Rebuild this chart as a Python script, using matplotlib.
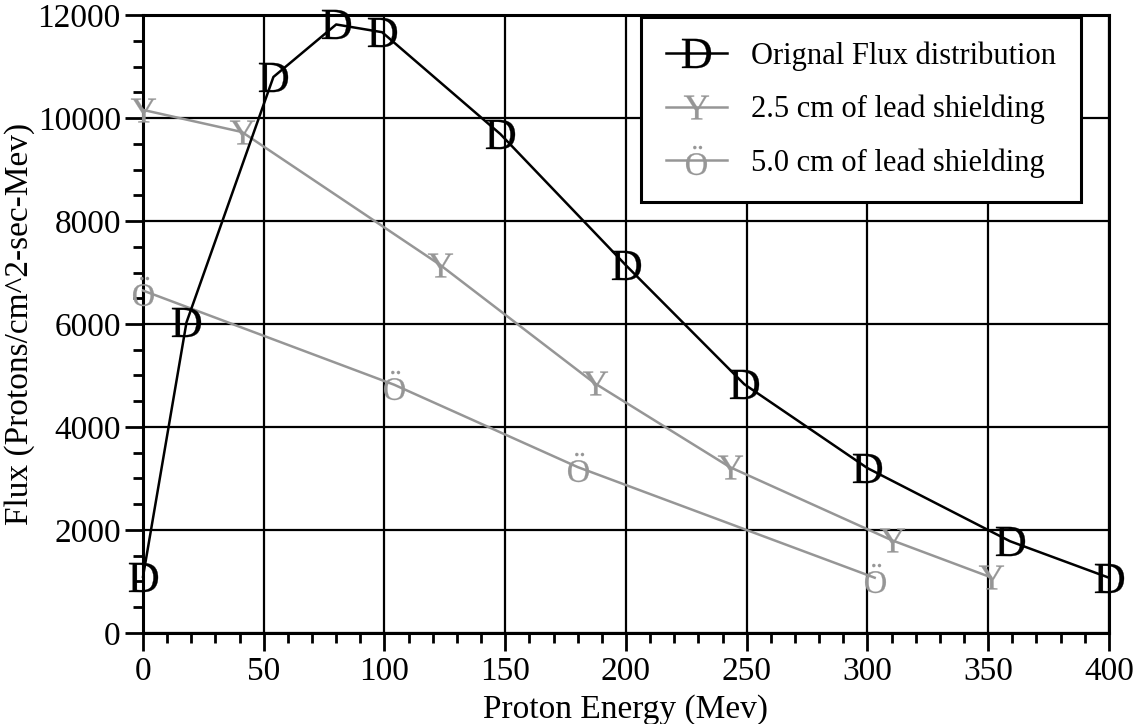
import matplotlib
matplotlib.use("Agg")
import matplotlib.pyplot as plt
from matplotlib.ticker import MultipleLocator

plt.rcParams['font.family'] = ['Liberation Serif', 'DejaVu Serif']
plt.rcParams['mathtext.fontset'] = 'custom'
plt.rcParams['mathtext.rm'] = 'Liberation Serif'

# values
orig_x = [0, 18, 54, 80, 99, 148, 200, 249, 300, 359, 400]
orig_y = [1090, 6030, 10800, 11820, 11670, 9690, 7140, 4830, 3200, 1780, 1070]

lead25_x = [0, 41, 123, 187, 243, 310, 351]
lead25_y = [10160, 9730, 7150, 4850, 3220, 1800, 1080]

lead50_x = [0, 104, 180, 303]
lead50_y = [6650, 4820, 3220, 1070]

labels = ['Orignal Flux distribution', '2.5 cm of lead shielding',
          '5.0 cm of lead shielding']

fig = plt.figure(figsize=(11.35, 7.24), dpi=100)
ax = fig.add_axes([0.126, 0.126, 0.851, 0.853])

grey = '#969696'
ax.plot(orig_x, orig_y, color='black', lw=1.8, marker=r'$\mathrm{D}$',
        ms=21, mec='black', mfc='black', mew=0.2, clip_on=False, label=labels[0], zorder=4)
ax.plot(lead25_x, lead25_y, color=grey, lw=1.8, marker=r'$\mathrm{Y}$',
        ms=18, mec=grey, mfc=grey, mew=0.2, clip_on=False, label=labels[1], zorder=3)
ax.plot(lead50_x, lead50_y, color=grey, lw=1.8, marker=r'$\mathrm{\"O}$',
        ms=21, mec=grey, mfc=grey, mew=0.2, clip_on=False, label=labels[2], zorder=3)

ax.set_xlim(0, 400)
ax.set_ylim(0, 12000)
ax.xaxis.set_major_locator(MultipleLocator(50))
ax.xaxis.set_minor_locator(MultipleLocator(10))
ax.yaxis.set_major_locator(MultipleLocator(2000))
ax.yaxis.set_minor_locator(MultipleLocator(500))
ax.grid(True, which='major', color='black', lw=1.6)
ax.set_axisbelow(True)

for s in ax.spines.values():
    s.set_linewidth(2.2)

ax.tick_params(which='major', direction='out', length=13, width=2, labelsize=24, pad=3)
ax.tick_params(which='minor', direction='out', length=7, width=2)
ax.tick_params(axis='x', which='major', pad=4)

ax.set_xlabel('Proton Energy (Mev)', fontsize=24, labelpad=5)
ax.set_ylabel('Flux (Protons/cm^2-sec-Mev)', fontsize=24, labelpad=2)

leg = ax.legend(loc='upper right', bbox_to_anchor=(0.971, 0.997), fontsize=22,
                frameon=True, fancybox=False, edgecolor='black', framealpha=1,
                handlelength=2.0, borderpad=0.8, labelspacing=0.78,
                handletextpad=0.8, borderaxespad=0)
leg.get_frame().set_linewidth(2.2)

fig.savefig('out.png', dpi=100)
